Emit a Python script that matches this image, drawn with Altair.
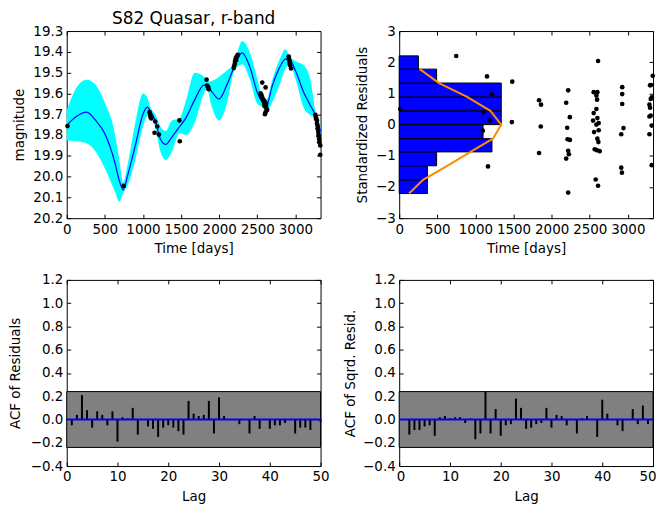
import altair as alt
import pandas as pd

FONT = "DejaVu Sans"

# ---------------- data ----------------
obs_t = [10, 748, 1087, 1095, 1100, 1109, 1152, 1161, 1187, 1209, 1478, 1483, 1835, 1840, 1857, 1861,
         2191, 2195, 2204, 2209, 2217, 2221, 2226, 2239, 2245,
         2543, 2552, 2557, 2565, 2565, 2578, 2586, 2587, 2591, 2596, 2600, 2600, 2609, 2609, 2613, 2617, 2617, 2630, 2600, 2552,
         2913, 2913, 2922, 2926, 2926, 2930, 2943,
         3261, 3270, 3270, 3283, 3283, 3291, 3291, 3300, 3304, 3304, 3313, 3313, 3326, 3326]
obs_mag = [19.757, 20.045, 19.690, 19.703, 19.714, 19.720, 19.789, 19.735, 19.759, 19.798, 19.730, 19.830, 19.534, 19.562, 19.570, 19.580,
           19.478, 19.470, 19.458, 19.445, 19.432, 19.440, 19.425, 19.418, 19.415,
           19.600, 19.606, 19.615, 19.548, 19.620, 19.630, 19.640, 19.635, 19.650, 19.660, 19.640, 19.700, 19.571, 19.690, 19.660, 19.650, 19.670, 19.680, 19.655, 19.612,
           19.423, 19.430, 19.440, 19.450, 19.458, 19.465, 19.480,
           19.703, 19.715, 19.722, 19.730, 19.745, 19.756, 19.770, 19.785, 19.800, 19.806, 19.820, 19.835, 19.850, 19.895]

gp_t = [0, 130, 260, 380, 500, 630, 690, 740, 800, 900, 1000, 1057, 1090, 1160, 1230, 1300, 1380, 1480, 1560, 1680,
        1800, 1840, 1900, 2000, 2100, 2200, 2300, 2400, 2500, 2560, 2620, 2700, 2800, 2870, 2930, 3000, 3110, 3200, 3265, 3330]
gp_mean = [19.754, 19.71, 19.69, 19.73, 19.794, 19.93, 20.02, 20.064, 19.993, 19.85, 19.70, 19.666, 19.68, 19.73, 19.82, 19.845, 19.81, 19.76, 19.72, 19.63,
           19.56, 19.56, 19.59, 19.627, 19.56, 19.47, 19.405, 19.47, 19.595, 19.64, 19.655, 19.56, 19.47, 19.435, 19.44, 19.49, 19.595, 19.66, 19.706, 19.78]
gp_lo = [19.682, 19.57, 19.534, 19.56, 19.645, 19.79, 19.92, 20.03, 19.94, 19.74, 19.60, 19.62, 19.66, 19.70, 19.76, 19.78, 19.73, 19.72, 19.64, 19.50,
         19.52, 19.545, 19.54, 19.52, 19.49, 19.455, 19.348, 19.40, 19.53, 19.61, 19.63, 19.53, 19.43, 19.387, 19.425, 19.445, 19.465, 19.54, 19.69, 19.76]
gp_hi = [19.826, 19.83, 19.84, 19.88, 19.96, 20.07, 20.12, 20.08, 20.04, 19.92, 19.76, 19.71, 19.71, 19.76, 19.88, 19.92, 19.88, 19.79, 19.80, 19.74,
         19.60, 19.58, 19.66, 19.73, 19.65, 19.49, 19.46, 19.53, 19.65, 19.665, 19.685, 19.64, 19.55, 19.48, 19.46, 19.53, 19.67, 19.705, 19.725, 19.80]

res_t = [13, 748, 1152, 1217, 1104, 1187, 1096, 1165, 1483, 1478, 1835, 1861, 1857, 1835,
         2217, 2191, 2239, 2204, 2209, 2239, 2217, 2226, 2191, 2217,
         2552, 2600, 2587, 2596, 2587, 2552, 2600, 2543, 2617, 2587, 2617, 2557, 2600, 2613, 2565, 2591, 2630, 2609, 2578, 2609,
         2926, 2926, 2926, 2943, 2913, 2913, 2922,
         3326, 3304, 3291, 3313, 3300, 3283, 3291, 3300, 3283, 3313, 3283, 3313]
res_v = [0.50, 2.20, 1.545, 0.97, 0.40, 0.134, -0.195, -1.34, 1.376, 0.08, 0.78, 0.64, -0.06, -0.91,
         1.10, 0.70, 0.24, -0.10, -0.47, -0.49, -0.84, -0.95, -1.09, -2.18,
         1.04, 1.04, 0.93, 0.80, 0.50, 0.37, 0.21, 0.13, 0.05, 0.0, -0.18, -0.24, -0.45, -0.56, -0.79, -0.82, -0.85, 2.04, -1.76, -1.96,
         1.20, 0.98, 0.66, -0.11, -0.31, -1.38, -1.54,
         1.566, 1.27, 1.26, 0.875, 0.82, 0.64, 0.54, 0.29, 0.26, -0.03, -0.31, -1.30]

hist_edges = [-2.21, -1.77, -1.32, -0.875, -0.45, 0.0, 0.442, 0.887, 1.333, 1.779, 2.204]
hist_len = [370, 370, 491, 1217, 1100, 1339, 1339, 1339, 491, 252]

gauss_len = [130, 313, 630, 935, 1230, 1339, 1196, 891, 522, 270]
gauss_res = [-2.21, -1.77, -1.32, -0.875, -0.45, 0.0, 0.442, 0.887, 1.333, 1.779]

lags = list(range(1, 51))
acf_res = [-0.05, 0.04, 0.21, 0.08, -0.07, 0.07, 0.04, -0.05, 0.07, -0.19,
           0.02, 0.01, 0.10, -0.13, 0.0, -0.06, -0.08, -0.15, -0.07, -0.05,
           -0.07, -0.10, -0.13, 0.16, 0.05, 0.03, 0.04, 0.16, -0.12, 0.19,
           0.03, 0.0, 0.0, -0.04, 0.0, -0.12, 0.03, -0.08, 0.0, -0.08,
           -0.05, -0.05, -0.03, 0.0, -0.12, -0.07, -0.07, -0.09, 0.0, -0.02]
acf_sq = [0.0, -0.13, -0.09, -0.09, -0.06, -0.05, -0.14, 0.02, 0.03, 0.01,
          0.02, 0.02, -0.03, 0.01, -0.17, -0.12, 0.24, -0.12, 0.09, -0.14,
          -0.05, -0.04, 0.18, 0.10, -0.08, -0.07, -0.04, -0.03, 0.10, -0.07,
          0.04, 0.03, -0.05, 0.0, -0.12, 0.01, 0.03, 0.0, -0.15, 0.17,
          0.05, 0.0, -0.05, -0.10, 0.0, 0.09, -0.04, 0.12, -0.04, 0.0]
conf_level = 0.24

time_ticks = [0, 500, 1000, 1500, 2000, 2500, 3000]
mag_ticks = [19.3, 19.4, 19.5, 19.6, 19.7, 19.8, 19.9, 20.0, 20.1, 20.2]
res_ticks = [-3, -2, -1, 0, 1, 2, 3]
lag_ticks = [0, 10, 20, 30, 40, 50]
acf_ticks = [-0.4, -0.2, 0.0, 0.2, 0.4, 0.6, 0.8, 1.0, 1.2]

# ---------------- frames ----------------
obs_df = pd.DataFrame({"t": obs_t, "mag": obs_mag})
gp_df = pd.DataFrame({"t": gp_t, "mean": gp_mean, "lo": gp_lo, "hi": gp_hi})
res_df = pd.DataFrame({"t": res_t, "v": res_v})
hist_df = pd.DataFrame({"y0": hist_edges[:-1], "y1": hist_edges[1:], "len": hist_len, "zero": [0] * len(hist_len)})
gauss_df = pd.DataFrame({"x": gauss_len, "y": gauss_res, "i": list(range(len(gauss_len)))})
acf1_df = pd.DataFrame({"lag": lags, "acf": acf_res, "zero": [0.0] * len(lags)})
acf2_df = pd.DataFrame({"lag": lags, "acf": acf_sq, "zero": [0.0] * len(lags)})
band_df = pd.DataFrame({"x0": [0], "x1": [50], "lo": [-conf_level], "hi": [conf_level]})

W1, W2 = 255, 255
H1, H2 = 188, 187
T_MAX = 3330
FS = 13.5

tscale = alt.Scale(domain=[0, T_MAX], nice=False, zero=False)
mscale = alt.Scale(domain=[19.3, 20.2], reverse=True, nice=False, zero=False)
rscale = alt.Scale(domain=[-3, 3], nice=False, zero=False)
lscale = alt.Scale(domain=[0, 50], nice=False, zero=False)
ascale = alt.Scale(domain=[-0.4, 1.2], nice=False, zero=False)


def inner_ticks(xscale, yscale, xvals, yvals, xv, yv):
    d = pd.DataFrame({"a": [xv], "b": [yv]})
    common = dict(labels=False, domain=False, title=None, tickSize=4, offset=-4, ticks=True, grid=False,
                  minExtent=0, maxExtent=0)
    l1 = alt.Chart(d).mark_point(opacity=0).encode(
        x=alt.X("a:Q", scale=xscale, axis=alt.Axis(orient="bottom", values=xvals, **common)),
        y=alt.Y("b:Q", scale=yscale, axis=alt.Axis(orient="left", values=yvals, **common)),
    )
    l2 = alt.Chart(d).mark_point(opacity=0).encode(
        x=alt.X("a:Q", scale=xscale, axis=alt.Axis(orient="top", values=xvals, **common)),
        y=alt.Y("b:Q", scale=yscale, axis=alt.Axis(orient="right", values=yvals, **common)),
    )
    return [l1, l2]


def yaxis(title, values, fmt, ext, pad):
    return alt.Axis(orient="left", title=title, values=values, format=fmt,
                    minExtent=ext, maxExtent=ext, titlePadding=pad)


def xaxis(title, values, flush=False):
    if flush:
        return alt.Axis(orient="bottom", title=title, values=values, format="d",
                        labelFlush=True, labelFlushOffset=3)
    return alt.Axis(orient="bottom", title=title, values=values, format="d")


# ---------- top left: light curve ----------
tl_band = alt.Chart(gp_df).mark_area(color="#00ffff", opacity=1, interpolate="monotone").encode(
    x=alt.X("t:Q", scale=tscale, axis=xaxis("Time [days]", time_ticks)),
    y=alt.Y("lo:Q", scale=mscale, axis=yaxis("magnitude", mag_ticks, ".1f", 34, 6)),
    y2="hi:Q",
)
tl_line = alt.Chart(gp_df).mark_line(color="#0000ff", strokeWidth=1.2, interpolate="monotone").encode(
    x=alt.X("t:Q", scale=tscale, axis=None),
    y=alt.Y("mean:Q", scale=mscale, axis=None),
)
tl_pts = alt.Chart(obs_df).mark_circle(color="black", size=22, opacity=1).encode(
    x=alt.X("t:Q", scale=tscale, axis=None),
    y=alt.Y("mag:Q", scale=mscale, axis=None),
)
tl = alt.layer(tl_band, tl_line, tl_pts, *inner_ticks(tscale, mscale, time_ticks, mag_ticks, 100, 19.5)).resolve_axis(
    x="independent", y="independent"
).properties(
    width=W1, height=H1,
    title=alt.TitleParams("S82 Quasar, r-band", fontSize=17, fontWeight="normal", font=FONT,
                          offset=-4, color="black", frame="group"),
)

# ---------- top right: residuals ----------
tr_hist = alt.Chart(hist_df).mark_rect(color="#0000ff", stroke="black", strokeWidth=1).encode(
    x=alt.X("zero:Q", scale=tscale, axis=xaxis("Time [days]", time_ticks)),
    x2="len:Q",
    y=alt.Y("y0:Q", scale=rscale, axis=yaxis("Standardized Residuals", res_ticks, "d", 24, 6)),
    y2="y1:Q",
)
tr_gauss = alt.Chart(gauss_df).mark_line(color="#ff8c00", strokeWidth=2).encode(
    x=alt.X("x:Q", scale=tscale, axis=None),
    y=alt.Y("y:Q", scale=rscale, axis=None),
    order="i:Q",
)
tr_pts = alt.Chart(res_df).mark_circle(color="black", size=22, opacity=1).encode(
    x=alt.X("t:Q", scale=tscale, axis=None),
    y=alt.Y("v:Q", scale=rscale, axis=None),
)
tr = alt.layer(tr_hist, tr_gauss, tr_pts, *inner_ticks(tscale, rscale, time_ticks, res_ticks, 100, 0)).resolve_axis(
    x="independent", y="independent"
).properties(width=W2, height=H1)


# ---------- bottom: ACF panels ----------
def acf_panel(df, ytitle, ext, pad, width, flush):
    band = alt.Chart(band_df).mark_rect(color="#808080", stroke="black", strokeWidth=1).encode(
        x=alt.X("x0:Q", scale=lscale, axis=xaxis("Lag", lag_ticks, flush)),
        x2="x1:Q",
        y=alt.Y("lo:Q", scale=ascale, axis=yaxis(ytitle, acf_ticks, ".1f", ext, pad)),
        y2="hi:Q",
    )
    bars = alt.Chart(df).mark_rule(color="black", strokeWidth=2).encode(
        x=alt.X("lag:Q", scale=lscale, axis=None),
        y=alt.Y("zero:Q", scale=ascale, axis=None),
        y2="acf:Q",
    )
    zero = alt.Chart(band_df).mark_rule(color="#0000ff", strokeWidth=2).encode(
        y=alt.Y("z:Q", scale=ascale, axis=None)
    ).transform_calculate(z="0")
    return alt.layer(band, bars, zero, *inner_ticks(lscale, ascale, lag_ticks, acf_ticks, 5, 0.5)).resolve_axis(
        x="independent", y="independent"
    ).properties(width=width, height=H2)


bl = acf_panel(acf1_df, "ACF of Residuals", 36, 8, W1, False)
br = acf_panel(acf2_df, "ACF of Sqrd. Resid.", 36, 6, W2, True)

chart = alt.concat(
    tl, tr, bl, br, columns=2, spacing={"row": 62, "column": 79}, bounds="flush"
).properties(
    padding={"left": 0, "top": 0, "right": 0, "bottom": 2}
).configure_view(
    stroke="black", strokeWidth=1
).configure_axis(
    labelFont=FONT, titleFont=FONT, labelFontSize=FS, titleFontSize=FS, titleFontWeight="normal",
    labelColor="black", titleColor="black", tickColor="black", domain=False, grid=False,
    tickSize=0, labelPadding=4, labelFlush=False, titlePadding=6,
).configure_title(font=FONT, color="black")

chart.save("out.html", embed_options={"renderer": "svg", "actions": False})
